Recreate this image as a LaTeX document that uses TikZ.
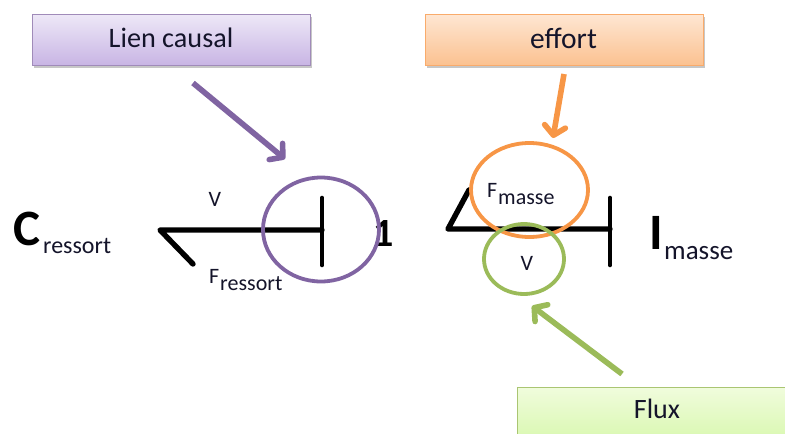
\documentclass[tikz,border=0pt]{standalone}
\usepackage{fontspec}
\setmainfont{Carlito}
\usetikzlibrary{arrows.meta,shadows,shapes.geometric}
\definecolor{pur}{HTML}{8064A2}
\definecolor{org}{HTML}{F79646}
\definecolor{grn}{HTML}{9BBB59}
\definecolor{txt}{HTML}{14142A}
\newcommand{\fs}[1]{\fontsize{#1}{#1}\selectfont}
\tikzset{
  labelbox/.style={draw,line width=1.2pt,minimum height=51pt,inner sep=0pt,anchor=north west,
    drop shadow={shadow xshift=1pt,shadow yshift=-2.5pt,fill=black,opacity=.22}},
  boxtext/.style={inner sep=0pt,text=txt},
  callout/.style={line width=5.6pt,-{Straight Barb[length=9pt,width=21pt,round]}},
  bond/.style={line width=5.4pt,line cap=round,line join=round},
  bar/.style={line width=4.6pt,line cap=round},
  ring/.style={ellipse,line width=3.8pt,draw,inner sep=0pt},
  lbl/.style={inner sep=0pt,anchor=base west,text=txt,font=\fs{22}},
  big/.style={inner sep=0pt,anchor=base west,text=black,font=\fs{51}\bfseries}
}
\begin{document}
\begin{tikzpicture}[x=1pt,y=-1pt]
\useasboundingbox (0,0) rectangle (785,434);
\clip (0,0) rectangle (785,434);
% boxes
\definecolor{pt}{HTML}{EDE7F7}\definecolor{pb}{HTML}{C8B4E4}
\definecolor{ot}{HTML}{FEE6D2}\definecolor{ob}{HTML}{FBC190}
\definecolor{gt}{HTML}{F0FCDC}\definecolor{gb}{HTML}{DAF8B2}
\node[labelbox,minimum width=278pt,top color=pt,bottom color=pb,draw=pur!75] (lien) at (32,14) {};
\node[boxtext,font=\fs{28.2}] (lientxt) at (171,38) {Lien causal};
\node[labelbox,minimum width=278pt,top color=ot,bottom color=ob,draw=org!80] (eff) at (425,14) {};
\node[boxtext,font=\fs{29.5}] (efftxt) at (563.5,38) {effort};
\node[labelbox,minimum width=280pt,top color=gt,bottom color=gb,draw=grn!85] (flx) at (517,387) {};
\node[boxtext,font=\fs{28}] (flxtxt) at (657,409) {Flux};
% coordinates
\coordinate (h1) at (160,230);
\coordinate (h1e) at (193,264);
\coordinate (b1) at (322,230);
\coordinate (b1t) at (322,198);
\coordinate (b1b) at (322,265);
\coordinate (h2) at (448,229);
\coordinate (h2e) at (469,190);
\coordinate (b2) at (610,229);
\coordinate (b2t) at (610,198);
\coordinate (b2b) at (610,265);
\coordinate (ps) at (193,83);
\coordinate (pe) at (285,159);
\coordinate (os) at (564,74);
\coordinate (oe) at (553,138);
\coordinate (gs) at (622,374);
\coordinate (ge) at (532,306);
% bonds
\draw[bond] (h1e) -- (h1) -- (b1);
\draw[bar] (b1t) -- (b1b);
\draw[bond] (h2e) -- (h2) -- (b2);
\draw[bar] (b2t) -- (b2b);
% labels
\node[big] (c) at (13,245) {C};
\node[inner sep=0pt,anchor=base west,text=txt,font=\fs{24}] (cs) at (43,253) {ressort};
\node[inner sep=0pt,text=black,font=\fs{40}\bfseries] (one) at (384,234) {1};
\node[big] (i) at (649,249) {I};
\node[inner sep=0pt,anchor=base west,text=txt,font=\fs{27}] (is) at (664,259) {masse};
\node[lbl] (v1) at (208.5,206) {V};
\node[lbl] (fr) at (209,283) {F};
\node[lbl] (frs) at (220,290) {ressort};
\node[lbl] (fm) at (487,197) {F};
\node[lbl] (fms) at (498,204) {masse};
\node[lbl] (v2) at (520.5,270) {V};
% rings
\node[ring,draw=pur,minimum width=116pt,minimum height=104pt] (rp) at (321,229.5) {};
\node[ring,draw=org,minimum width=117pt,minimum height=94pt] (ro) at (529.5,190) {};
\node[ring,draw=grn,minimum width=80pt,minimum height=70pt] (rg) at (524,259) {};
% callouts
\draw[callout,pur] (ps) -- (pe);
\draw[callout,org] (os) -- (oe);
\draw[callout,grn] (gs) -- (ge);
\end{tikzpicture}
\end{document}
